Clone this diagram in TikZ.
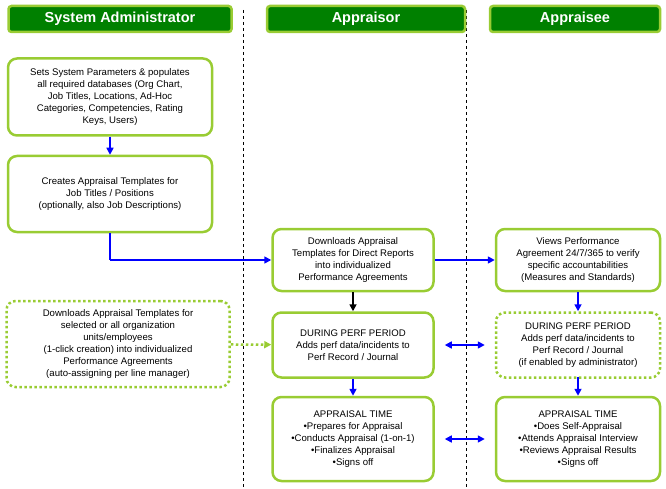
\documentclass[tikz,border=0pt]{standalone}
\usepackage{fontspec}
\setmainfont{Liberation Sans}
\usetikzlibrary{arrows.meta}
\definecolor{lime}{RGB}{153,204,51}
\definecolor{dkgreen}{RGB}{0,128,0}
\tikzset{
	head/.style={draw=lime, line width=2.5pt, fill=dkgreen, rounded corners=3pt, text=white, font=\bfseries\fontsize{14.5}{16}\selectfont, minimum height=26pt},
	stage/.style={draw=lime, line width=2.5pt, rounded corners=9pt, align=center, font=\fontsize{9.6}{12}\selectfont, inner sep=1pt},
	opt/.style={stage, dash pattern=on 2.5pt off 2.5pt},
	flow/.style={blue, line width=1.6pt, -{Triangle[length=7pt,width=7pt]}},
	both/.style={flow, {Triangle[length=7pt,width=7pt]}-{Triangle[length=7pt,width=7pt]}},
}
\begin{document}
\begin{tikzpicture}[x=1pt, y=-1pt]
	\useasboundingbox (0, 0) rectangle (666, 489);

	\draw[dashed] (243, 10) -- (243, 489);
	\draw[dashed] (466, 10) -- (466, 489);

	\node[head, minimum width=223pt] (hadm) at (120, 19) {System Administrator};
	\node[head, minimum width=198pt] (hapr) at (366, 19) {Appraisor};
	\node[head, minimum width=170pt] (hape) at (575, 19) {Appraisee};

	\node[stage, minimum width=204pt, minimum height=77pt] (setup) at (110, 97) {Sets System Parameters \& populates\\all required databases (Org Chart,\\Job Titles, Locations, Ad-Hoc\\Categories, Competencies, Rating\\Keys, Users)};
	\node[stage, minimum width=204pt, minimum height=76pt] (tmpl) at (110, 194) {Creates Appraisal Templates for\\Job Titles / Positions\\(optionally, also Job Descriptions)};
	\node[opt, minimum width=223pt, minimum height=86pt] (bulk) at (118, 344) {Downloads Appraisal Templates for\\selected or all organization\\units/employees\\(1-click creation) into individualized\\Performance Agreements\\(auto-assigning per line manager)};

	\node[stage, minimum width=161pt, minimum height=62pt] (dl) at (353, 260) {Downloads Appraisal\\Templates for Direct Reports\\into individualized\\Performance Agreements};
	\node[stage, minimum width=161pt, minimum height=65pt] (perf) at (353, 345) {DURING PERF PERIOD\\Adds perf data/incidents to\\Perf Record / Journal};
	\node[stage, minimum width=161pt, minimum height=84pt] (appr) at (353, 439) {APPRAISAL TIME\\•Prepares for Appraisal\\•Conducts Appraisal (1-on-1)\\•Finalizes Appraisal\\•Signs off};

	\node[stage, minimum width=164pt, minimum height=62pt] (view) at (578, 260) {Views Performance\\Agreement 24/7/365 to verify\\specific accountabilities\\(Measures and Standards)};
	\node[opt, minimum width=164pt, minimum height=65pt] (perfe) at (578, 345) {DURING PERF PERIOD\\Adds perf data/incidents to\\Perf Record / Journal\\(if enabled by administrator)};
	\node[stage, minimum width=164pt, minimum height=84pt] (apre) at (578, 439) {APPRAISAL TIME\\•Does Self-Appraisal\\•Attends Appraisal Interview\\•Reviews Appraisal Results\\•Signs off};

	\coordinate (turn) at (tmpl.south |- dl.west);

	\draw[flow] (setup) -- (tmpl);
	\draw[flow, -] (tmpl) -- (turn);
	\draw[flow] (turn) -- (dl);
	\draw[flow] (dl) -- (view);
	\draw[flow, black] (dl) -- (perf);
	\draw[flow] (perf) -- (appr);
	\draw[flow] (view) -- (perfe);
	\draw[flow] ([yshift=2pt]perfe.south) -- (apre);
	\draw[flow, lime, line width=2.5pt, dash pattern=on 2.5pt off 2.5pt] (bulk) -- (perf);
	\draw[both] ([xshift=10pt]perf.east) -- ([xshift=-10pt]perfe.west);
	\draw[both] ([xshift=10pt]appr.east) -- ([xshift=-10pt]apre.west);

\end{tikzpicture}
\end{document}
